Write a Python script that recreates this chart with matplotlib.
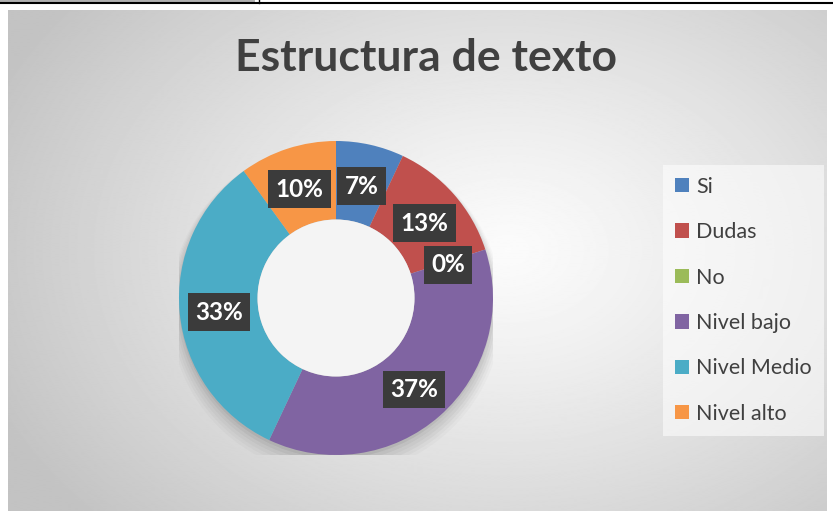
import numpy as np
import matplotlib.pyplot as plt
from matplotlib.patches import Rectangle
from matplotlib.lines import Line2D

# Datos del gráfico
categorias = ["Si", "Dudas", "No", "Nivel bajo", "Nivel Medio", "Nivel alto"]
porcentajes = [7, 13, 0, 37, 33, 10]
colores = ["#4f81bd", "#c0504d", "#9bbb59", "#8064a2", "#4bacc6", "#f79646"]
titulo = "Estructura de texto"

W, H = 833, 511
fig = plt.figure(figsize=(W / 100, H / 100), dpi=100)
fig.patch.set_facecolor("white")

# Fondo con degradado radial (area del grafico)
bg = fig.add_axes([8 / W, 0, (827 - 8) / W, (H - 10) / H])
bg.set_axis_off()
yy, xx = np.mgrid[0:500, 0:820]
cx, cy = 500, 240
r = np.sqrt(((xx - cx) / 560.0) ** 2 + ((yy - cy) / 400.0) ** 2)
r = np.clip(r, 0, 1)
val = 0.985 - 0.22 * r ** 1.2
bg.imshow(val, cmap="gray", vmin=0, vmax=1, aspect="auto", interpolation="bilinear")

# Linea superior del documento
fig.add_artist(Line2D([0, 1], [1 - 3.5 / H, 1 - 3.5 / H], color="black", lw=1.5))
fig.add_artist(Rectangle((0, 1 - 2 / H), 255 / W, 2 / H, color="#b0b0b0", lw=0))
fig.add_artist(Line2D([259 / W, 259 / W], [1 - 3.5 / H, 1], color="black", lw=1))

# Titulo
fig.text(426 / W, 1 - 58 / H, titulo, ha="center", va="center", fontsize=32,
         fontweight="bold", color="#404040", family="Lato")

# Dona
cxp, cyp, R = 336, 298, 157
ax = fig.add_axes([(cxp - R) / W, (H - cyp - R) / H, 2 * R / W, 2 * R / H])
ax.set_axis_off()

# sombra suave
for k, a in zip(range(6), [0.05, 0.04, 0.035, 0.03, 0.025, 0.02]):
    ax.add_patch(plt.Circle((0.0, -0.02 - 0.01 * k), 1.0 + 0.012 * k, color="black",
                            alpha=a, lw=0, zorder=0))

wedges, _ = ax.pie(porcentajes, colors=colores, startangle=90, counterclock=False,
                   radius=1.0, wedgeprops=dict(width=0.5, edgecolor="none"))
hole = plt.Circle((0, 0), 0.5, color="#f4f4f4", lw=0, zorder=1)
ax.add_patch(hole)
ax.set_xlim(-1, 1)
ax.set_ylim(-1, 1)

for w, p in zip(wedges, porcentajes):
    ang = np.deg2rad((w.theta1 + w.theta2) / 2)
    x = 0.75 * np.cos(ang)
    y = 0.75 * np.sin(ang) - 0.02
    ax.text(x, y, f"{p}%", ha="center", va="center", fontsize=17.5, fontweight="bold",
            color="white", family="Lato", zorder=5,
            bbox=dict(boxstyle="square,pad=0.3", facecolor="#3b3b3b",
                      edgecolor="#3b3b3b", lw=0))

# Leyenda
handles = [Rectangle((0, 0), 1, 1, facecolor=c, edgecolor="none") for c in colores]
leg = fig.legend(handles, categorias, loc="upper left",
                 bbox_to_anchor=(663 / W, 1 - 165 / H), frameon=True,
                 labelspacing=1.18, handlelength=0.65,
                 handleheight=0.65, handletextpad=0.35, borderpad=0.55,
                 borderaxespad=0, fancybox=False, prop=dict(family="Lato", size=15.5))
leg.get_frame().set_facecolor("white")
leg.get_frame().set_alpha(0.55)
leg.get_frame().set_edgecolor("none")
for t in leg.get_texts():
    t.set_color("#404040")

fig.savefig("out.png", dpi=100)
